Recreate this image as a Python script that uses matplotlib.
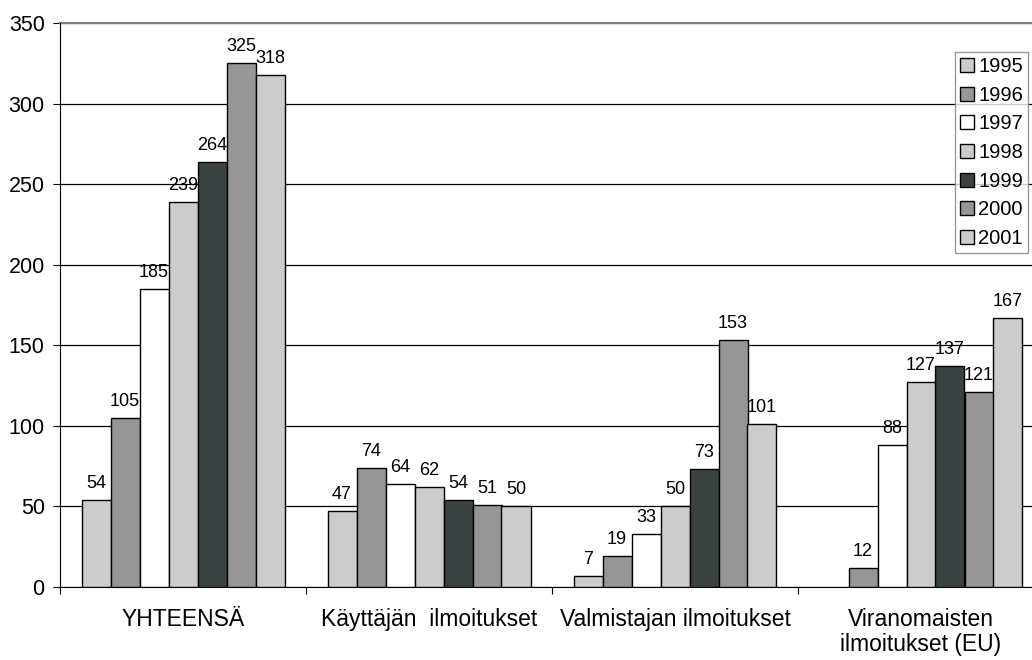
import numpy as np
import matplotlib
matplotlib.use("Agg")
import matplotlib.pyplot as plt
from matplotlib.patches import Patch

plt.rcParams['font.family'] = ['Liberation Sans', 'DejaVu Sans']

categories = ["YHTEENSÄ", "Käyttäjän  ilmoitukset", "Valmistajan ilmoitukset",
              "Viranomaisten\nilmoitukset (EU)"]
years = ["1995", "1996", "1997", "1998", "1999", "2000", "2001"]
values = {
    "1995": [54, 47, 7, np.nan],
    "1996": [105, 74, 19, 12],
    "1997": [185, 64, 33, 88],
    "1998": [239, 62, 50, 127],
    "1999": [264, 54, 73, 137],
    "2000": [325, 51, 153, 121],
    "2001": [318, 50, 101, 167],
}
colors = ["#CCCCCC", "#969696", "#FFFFFF", "#CCCCCC", "#394241", "#969696", "#CCCCCC"]

fig = plt.figure(figsize=(10.32, 6.6), dpi=100)
ax = fig.add_axes([60/1032, 1-587/660, (1044-60)/1032, (587-23)/660])

n = len(years)
bw = 29/246
x = np.arange(len(categories))
for i, y in enumerate(years):
    pos = x + (i - (n-1)/2) * bw
    vals = np.array(values[y], dtype=float)
    ax.bar(pos, vals, width=bw, color=colors[i], edgecolor="black", linewidth=1.0, zorder=3)
    for p, v in zip(pos, vals):
        if not np.isnan(v):
            ax.text(p, v + 5, f"{int(v)}", ha="center", va="bottom", fontsize=13, zorder=4)

ax.set_xlim(-0.5, len(categories) - 0.5)
ax.set_ylim(0, 350)
ax.set_yticks(np.arange(0, 351, 50))
ax.yaxis.grid(True, color="black", linewidth=0.9, zorder=0)
ax.set_axisbelow(True)
ax.tick_params(axis="y", labelsize=15.5, length=5, direction="out", color="black", pad=6)

ax.set_xticks(np.arange(-0.5, len(categories), 1.0))
ax.set_xticklabels([])
ax.set_xticks(x, minor=True)
ax.set_xticklabels(categories, minor=True, fontsize=16.5, linespacing=1.1)
ax.tick_params(axis="x", which="major", length=5, direction="out")
ax.tick_params(axis="x", which="minor", length=0, pad=15)

for s in ["top", "right"]:
    ax.spines[s].set_visible(False)
ax.spines["left"].set_color("black")
ax.spines["bottom"].set_color("black")
ax.axhline(350, color="#808080", linewidth=1.5, zorder=1, clip_on=False)

handles = [Patch(facecolor=c, edgecolor="black", label=y) for c, y in zip(colors, years)]
leg = fig.legend(handles=handles, loc="upper left", bbox_to_anchor=(955/1032, 1-52/660),
                 fontsize=14.5, frameon=True, fancybox=False, handlelength=0.7,
                 handleheight=0.7, handletextpad=0.2, labelspacing=0.48,
                 borderpad=0.25, borderaxespad=0)
leg.get_frame().set_edgecolor("#808080")
leg.get_frame().set_linewidth(1.0)

fig.savefig("out.png", dpi=100)
